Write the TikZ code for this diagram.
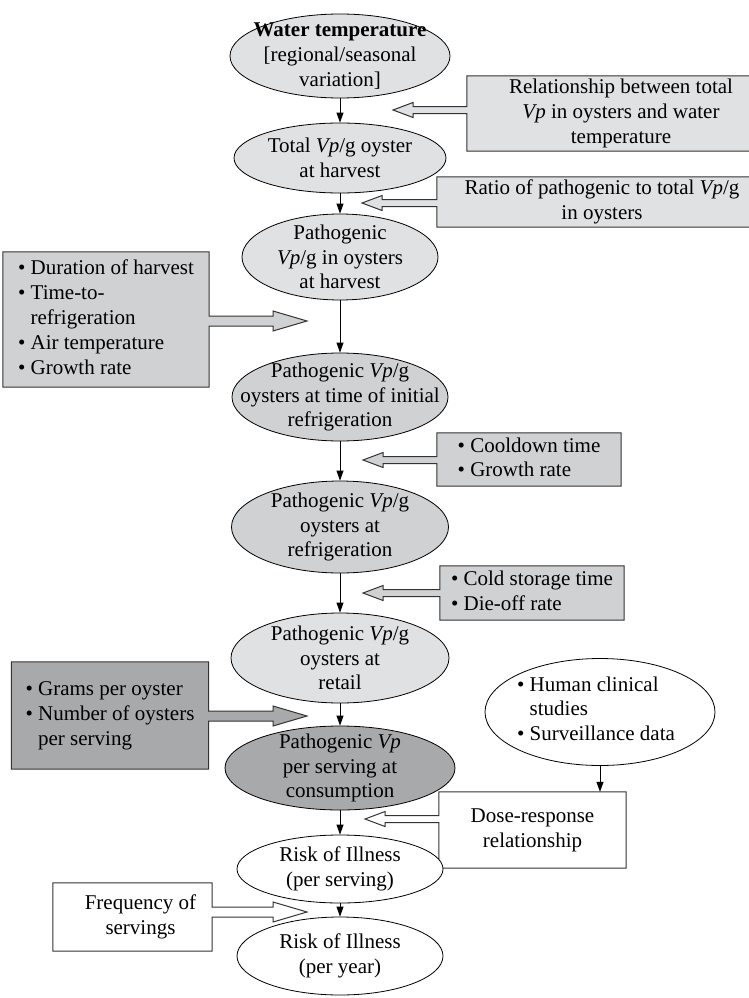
\documentclass[tikz,border=0pt]{standalone}
\usepackage{fontspec}
\setmainfont{Liberation Serif}
\usetikzlibrary{shapes.geometric,arrows.meta,calc,backgrounds}

\definecolor{lightfill}{HTML}{E0E1E3}
\definecolor{midfill}{HTML}{D0D1D3}
\definecolor{darkfill}{HTML}{A8A9AB}

% Box whose outline runs into a hollow block arrow pointing left to #3
\newcommand\feedfromright[3]{%
  \begin{pgfonlayer}{background}
  \draw[feedline,fill=#1] let \p1=(#2.north west), \p2=(#2.south east), \p3=(#3) in
    (\x1,\y1) -- (\x2,\y1) -- (\x2,\y2) -- (\x1,\y2) -- (\x1,\y3-3.5pt)
    -- (\x3+20pt,\y3-3.5pt) -- (\x3+20pt,\y3-7.5pt) -- (\x3,\y3)
    -- (\x3+20pt,\y3+7.5pt) -- (\x3+20pt,\y3+3.5pt) -- (\x1,\y3+3.5pt) -- cycle;
  \end{pgfonlayer}}
% Box whose outline runs into a hollow block arrow pointing right to #3
\newcommand\feedfromleft[3]{%
  \begin{pgfonlayer}{background}
  \draw[feedline,fill=#1] let \p1=(#2.north west), \p2=(#2.south east), \p3=(#3) in
    (\x1,\y1) -- (\x2,\y1) -- (\x2,\y3+5pt) -- (\x3-34pt,\y3+5pt)
    -- (\x3-34pt,\y3+10pt) -- (\x3,\y3) -- (\x3-34pt,\y3-10pt)
    -- (\x3-34pt,\y3-5pt) -- (\x2,\y3-5pt) -- (\x2,\y2) -- (\x1,\y2) -- cycle;
  \end{pgfonlayer}}
% bulleted list with hanging indent
\newenvironment{bulletlist}{\begin{tabular}{@{}l@{\hspace{0.25em}}l@{}}}{\end{tabular}}

\begin{document}
\begin{tikzpicture}[x=1pt,y=-1pt,
  every node/.style={font=\fontsize{21}{24.8}\selectfont},
  ell/.style={ellipse,draw=black,line width=0.8pt,inner sep=0pt},
  lbl/.style={align=center,inner sep=0pt},
  area/.style={rectangle,inner sep=0pt},
  flow/.style={-{Triangle[length=10pt,width=7pt]},line width=0.8pt},
  feedline/.style={draw=black!80,line width=1pt,line join=miter}]
\useasboundingbox (0,0) rectangle (749,998);

% main chain of ellipses
\node[ell,fill=lightfill,minimum width=220,minimum height=84] (e1) at (340,56) {};
\node[ell,fill=lightfill,minimum width=212,minimum height=70] (e2) at (340,158) {};
\node[ell,fill=lightfill,minimum width=196,minimum height=86] (e3) at (340,257) {};
\node[ell,fill=midfill,minimum width=216,minimum height=88] (e4) at (340,397) {};
\node[ell,fill=midfill,minimum width=217,minimum height=92] (e5) at (340,527) {};
\node[ell,fill=lightfill,minimum width=218,minimum height=90] (e6) at (340,658) {};
\node[ell,fill=darkfill,minimum width=230,minimum height=84] (e7) at (340,768) {};
\node[ell,fill=white,minimum width=206,minimum height=68] (e8) at (340,869) {};
\node[ell,fill=white,minimum width=206,minimum height=78] (e9) at (340,956) {};
\node[ell,fill=white,minimum width=230,minimum height=107] (eh) at (600,712) {};

\node[lbl] (e1t) at (e1) {\textbf{Water temperature}\\{[}regional/seasonal\\variation{]}};
\node[lbl] (e2t) at (e2) {Total \textit{Vp}/g oyster\\at harvest};
\node[lbl] (e3t) at (e3) {Pathogenic\\\textit{Vp}/g in oysters\\at harvest};
\node[lbl] (e4t) at (e4) {Pathogenic \textit{Vp}/g\\oysters at time of initial\\refrigeration};
\node[lbl] (e5t) at (e5) {Pathogenic \textit{Vp}/g\\oysters at\\refrigeration};
\node[lbl] (e6t) at (e6) {Pathogenic \textit{Vp}/g\\oysters at\\retail};
\node[lbl] (e7t) at (e7) {Pathogenic \textit{Vp}\\per serving at\\consumption};
\node[lbl] (e8t) at (e8) {Risk of Illness\\(per serving)};
\node[lbl] (e9t) at (e9) {Risk of Illness\\(per year)};
\node[inner sep=0pt] (eht) at (596,711) {\begin{bulletlist}
  \textbullet & Human clinical\\ & studies\\ \textbullet & Surveillance data\end{bulletlist}};

% side boxes
\node[area,minimum width=308,minimum height=75,lbl] (bRel) at (621,113.5) {Relationship between total\\\textit{Vp} in oysters and water\\temperature};
\node[area,minimum width=330,minimum height=50,lbl] (bRatio) at (602,202) {Ratio of pathogenic to total \textit{Vp}/g\\in oysters};
\node[area,minimum width=206,minimum height=135] (bDur) at (106,319.5) {\begin{bulletlist}
  \textbullet & Duration of harvest\\ \textbullet & Time-to-\\ & refrigeration\\
  \textbullet & Air temperature\\ \textbullet & Growth rate\end{bulletlist}};
\node[area,minimum width=184,minimum height=53] (bCool) at (529,459.5) {\begin{bulletlist}
  \textbullet & Cooldown time\\ \textbullet & Growth rate\end{bulletlist}};
\node[area,minimum width=184,minimum height=54] (bCold) at (532,593) {\begin{bulletlist}
  \textbullet & Cold storage time\\ \textbullet & Die-off rate\end{bulletlist}};
\node[area,minimum width=197,minimum height=107] (bGrams) at (110,715.5) {\begin{bulletlist}
  \textbullet & Grams per oyster\\ \textbullet & Number of oysters\\ & per serving\end{bulletlist}};
\node[area,minimum width=187,minimum height=76,lbl] (bDose) at (532.5,830) {Dose-response\\relationship};
\node[area,minimum width=159,minimum height=68,lbl] (bFreq) at (132.5,917) {\hspace{16pt}Frequency of\\\hspace{16pt}servings};

% tips of the block arrows on the main chain
\coordinate (tRel) at (393,110);
\coordinate (tRatio) at (362,203);
\coordinate (tDur) at (307,321);
\coordinate (tCool) at (363,460);
\coordinate (tCold) at (363,593);
\coordinate (tGrams) at (307,716);
\coordinate (tDose) at (365,819);
\coordinate (tFreq) at (307,912);

\feedfromright{lightfill}{bRel}{tRel}
\feedfromright{lightfill}{bRatio}{tRatio}
\feedfromleft{midfill}{bDur}{tDur}
\feedfromright{midfill}{bCool}{tCool}
\feedfromright{midfill}{bCold}{tCold}
\feedfromleft{darkfill}{bGrams}{tGrams}
\feedfromright{white}{bDose}{tDose}
\feedfromleft{white}{bFreq}{tFreq}

% connectors of the main chain
\draw[flow] (e1.south) -- (e2.north);
\draw[flow] (e2.south) -- (e3.north);
\draw[flow] (e3.south) -- (e4.north);
\draw[flow] (e4.south) -- (e5.north);
\draw[flow] (e5.south) -- (e6.north);
\draw[flow] (e6.south) -- (e7.north);
\draw[flow] (e7.south) -- (e8.north);
\draw[flow] (e8.south) -- (e9.north);
\draw[flow] (eh.south) -- (bDose.north -| eh.south);
\end{tikzpicture}
\end{document}
